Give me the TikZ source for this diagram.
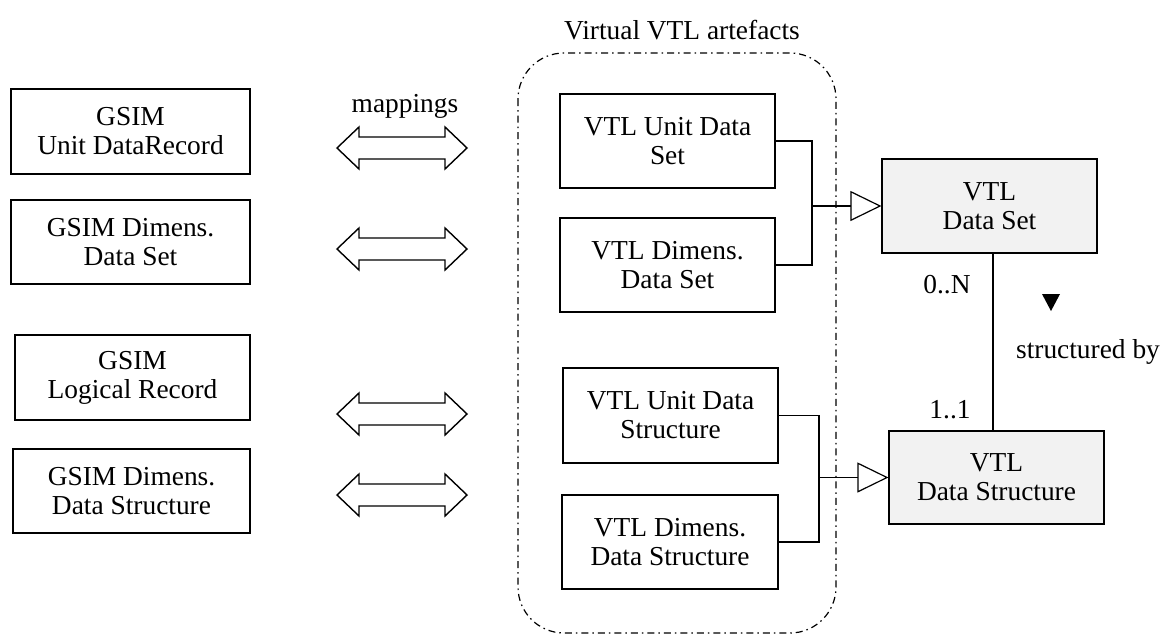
\documentclass[tikz,border=0pt]{standalone}
\usepackage{fontspec}
\setmainfont{Liberation Serif}
\usetikzlibrary{arrows.meta,calc}
\begin{document}
\begin{tikzpicture}[x=1pt,y=-1pt,
  every node/.style={font=\fontsize{27.4}{29}\selectfont},
  box/.style={draw,line width=1.2pt,inner sep=0pt,align=center},
  gbox/.style={box,fill=boxgray},
  lnk/.style={line width=1.2pt},
  gen/.style={lnk,-{Triangle[open,length=31pt,width=30pt,line width=1.2pt]}},
  grp/.style={line width=1.2pt,rounded corners=46pt,dash pattern=on 7pt off 4pt on 1.5pt off 4pt},
  darr/.style={line width=1.4pt,line join=miter},
  lbl/.style={inner sep=0pt}
]
\definecolor{boxgray}{HTML}{F2F2F2}
\useasboundingbox (0,0) rectangle (1170,635);

% group
\draw[grp] (518,53) rectangle (836,633);
\node[lbl] (title) at (682,30) {Virtual VTL artefacts};

% left boxes
\node[box,minimum width=239pt,minimum height=85pt] (g1) at (130.5,131.5) {GSIM\\Unit DataRecord};
\node[box,minimum width=239pt,minimum height=84pt] (g2) at (130.5,242) {GSIM Dimens.\\Data Set};
\node[box,minimum width=235pt,minimum height=85pt] (g3) at (132.5,377.5) {GSIM\\Logical Record};
\node[box,minimum width=237pt,minimum height=84pt] (g4) at (131.5,491) {GSIM Dimens.\\Data Structure};

% middle boxes
\node[box,minimum width=215pt,minimum height=94pt] (m1) at (667.5,141) {VTL Unit Data\\Set};
\node[box,minimum width=215pt,minimum height=94pt] (m2) at (667.5,265) {VTL Dimens.\\Data Set};
\node[box,minimum width=215pt,minimum height=95pt] (m3) at (670.5,415.5) {VTL Unit Data\\Structure};
\node[box,minimum width=216pt,minimum height=94pt] (m4) at (670,542) {VTL Dimens.\\Data Structure};

% right boxes
\node[gbox,minimum width=215pt,minimum height=94pt] (r1) at (989.5,206) {VTL\\Data Set};
\node[gbox,minimum width=215pt,minimum height=93pt] (r2) at (996.5,477.5) {VTL\\Data Structure};

% mappings label
\node[lbl] (map) at (405,106) {mappings};

% double arrows
\foreach \n/\yy in {a1/148,a2/249,a3/414,a4/495}{
  \coordinate (\n) at (402,\yy);
  \draw[darr] ($(\n)+(-65,0)$) -- ++(22,-21) -- ++(0,10) -- ++(86,0) -- ++(0,-10)
     -- ++(22,21) -- ++(-22,21) -- ++(0,-10) -- ++(-86,0) -- ++(0,10) -- cycle;
}

% generalisation connectors
\coordinate (j1) at (812,203);
\draw[lnk] (m1.east) -| (j1) |- (m2.east);
\draw[gen] (j1 |- r1.west) -- (r1.west);
\coordinate (j2) at (819,478);
\draw[lnk] (m3.east) -| (j2) |- (m4.east);
\draw[gen] (j2 |- r2.west) -- (r2.west);

% association
\coordinate (ax) at (993,0);
\draw[lnk] (r1.south -| ax) -- (r2.north -| ax);
\node[lbl] (m0n) at (947,285) {0..N};
\node[lbl] (m11) at (950,410) {1..1};
\node[lbl] (sb) at (1088,352) {structured by};
\coordinate (tri) at (1051,302);
\fill ($(tri)+(-9,-8)$) -- ($(tri)+(9,-8)$) -- ($(tri)+(0,9)$) -- cycle;
\end{tikzpicture}
\end{document}
